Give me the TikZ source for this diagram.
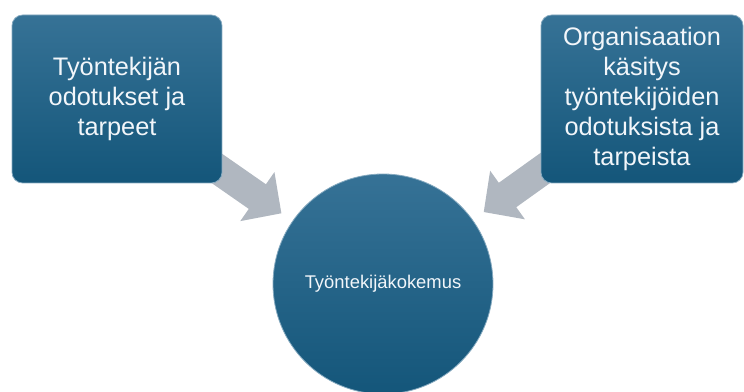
\documentclass[tikz,border=0pt]{standalone}
\usepackage{fontspec}
\setmainfont{Liberation Sans}
\usetikzlibrary{arrows.meta, backgrounds}
\definecolor{tealtop}{RGB}{54,114,150}
\definecolor{tealbot}{RGB}{20,86,122}
\definecolor{arrowgray}{RGB}{176,183,192}
\definecolor{textwhite}{RGB}{242,246,250}

\begin{document}
\begin{tikzpicture}[x=0.75pt, y=-0.75pt,
  boks/.style={rounded corners=8pt, top color=tealtop, bottom color=tealbot, draw=tealtop!60!white, line width=0.6pt, text=textwhite, align=center, inner sep=0pt, minimum height=126pt, font=\fontsize{19}{22.5}\selectfont},
  ympyra/.style={circle, top color=tealtop, bottom color=tealbot, draw=tealtop!60!white, line width=0.6pt, text=textwhite, minimum size=165pt, inner sep=0pt, font=\fontsize{13.8}{16}\selectfont},
  nuoli/.style={draw=arrowgray, line width=22.5pt, -{Triangle[width=43.5pt, length=22pt]}, shorten <=-12pt, shorten >=10pt}]
  \useasboundingbox (0,0) rectangle (744,392);
  \node[boks, minimum width=157.5pt] (tarpeet) at (117,99) {Työntekijän\\odotukset ja\\tarpeet};
  \node[boks, minimum width=151.5pt] (kasitys) at (642,99) {Organisaation\\käsitys\\työntekijöiden\\odotuksista ja\\tarpeista};
  \node[ympyra] (kokemus) at (383,284) {Työntekijäkokemus};
  \begin{scope}[on background layer]
    \draw[nuoli] (tarpeet) -- (kokemus);
    \draw[nuoli] (kasitys) -- (kokemus);
  \end{scope}
\end{tikzpicture}
\end{document}
